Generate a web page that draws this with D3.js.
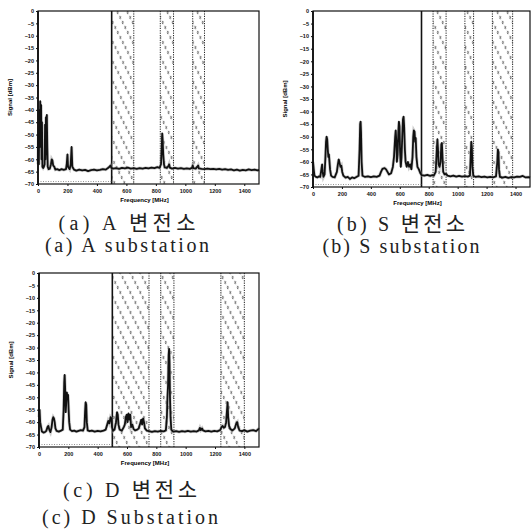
<!DOCTYPE html>
<html>
<head>
<meta charset="utf-8">
<script src="https://cdn.jsdelivr.net/npm/d3@7"></script>
<style>
body { margin: 0; background: #fff; }
</style>
</head>
<body>
<svg id="fig" width="532" height="529"></svg>
<script>
let xTicks = [0, 200, 400, 600, 800, 1000, 1200, 1400]
let yTicks = [0, -5, -10, -15, -20, -25, -30, -35, -40, -45, -50, -55, -60, -65, -70]

// spectrum traces, [MHz, dBm]
let traceA = [[0,-62],[3,-50],[6,-62],[9,-40],[12,-55],[15,-36.5],[18,-52],[21,-38],[24,-60],[27,-45],[30,-63],[35,-63.5],[40,-63],[45,-62],[48,-46],[51,-60],[54,-43],[57,-58],[60,-42],[63,-55],[66,-63],[72,-64],[80,-63.8],[88,-62],[93,-60],[98,-60.5],[103,-62.5],[110,-63],[118,-64.2],[130,-64],[145,-64.4],[160,-64],[175,-64.3],[190,-64],[195,-62],[200,-58],[204,-63],[215,-64],[222,-62],[228,-55],[233,-63],[245,-64.2],[260,-64.6],[280,-64.2],[300,-64.5],[320,-64.3],[340,-64.8],[360,-64.4],[380,-64.2],[400,-64.5],[420,-64.3],[440,-64],[460,-64.2],[475,-63.5],[485,-63],[492,-62.5],[498,-63.5],[510,-63.8],[530,-63.6],[550,-63.9],[570,-63.5],[590,-63.7],[610,-63.4],[630,-63.8],[650,-63.6],[670,-63.9],[690,-63.6],[710,-63.8],[730,-63.5],[750,-63.7],[770,-63.4],[790,-63.6],[810,-63.2],[825,-63.5],[835,-62],[840,-55],[843,-49.5],[846,-52],[850,-58],[855,-62],[860,-63.3],[875,-63.5],[885,-62.8],[890,-62],[895,-63.4],[910,-63.8],[930,-63.5],[950,-63.8],[970,-63.6],[990,-63.9],[1010,-63.7],[1030,-63.9],[1045,-63.5],[1050,-62.5],[1055,-63.6],[1070,-63.8],[1082,-63],[1087,-62.5],[1092,-63.7],[1110,-63.9],[1130,-64],[1150,-63.8],[1170,-64],[1190,-63.9],[1210,-64.1],[1230,-63.9],[1250,-64.2],[1270,-64],[1290,-64.3],[1310,-64.1],[1330,-64.5],[1350,-64.2],[1370,-64.6],[1390,-64.3],[1410,-64.5],[1430,-64.1],[1450,-64.4],[1470,-64.2],[1490,-64.5],[1500,-64.3]]

let traceB = [[0,-60],[5,-63],[10,-65.5],[20,-66],[30,-66.2],[40,-65.8],[50,-66],[58,-63],[63,-61],[67,-64],[72,-66],[80,-65],[86,-58],[90,-52],[94,-50],[98,-51],[102,-55],[106,-58],[110,-57],[114,-60],[118,-63],[125,-65.5],[135,-66],[150,-66.2],[165,-64],[172,-61],[178,-59],[184,-60.5],[190,-62],[196,-61.5],[202,-64],[210,-65.5],[225,-66.3],[240,-66],[255,-66.8],[270,-66.2],[285,-66.5],[300,-66],[315,-65.5],[322,-55],[326,-45],[329,-44],[332,-48],[336,-60],[342,-65.5],[360,-66],[380,-65.8],[400,-66.1],[420,-65.8],[440,-66],[460,-65.5],[470,-64],[480,-62.8],[495,-62.5],[505,-63],[515,-64],[525,-65],[540,-64.5],[552,-62],[560,-58],[568,-50],[572,-47.5],[576,-52],[580,-60],[585,-57],[590,-48],[594,-44],[598,-46],[602,-56],[607,-62],[612,-58],[617,-50],[622,-43],[626,-42],[630,-46],[635,-55],[640,-60],[648,-62],[656,-60],[664,-62],[672,-61],[680,-63],[688,-58],[693,-50],[697,-47.5],[702,-48],[706,-52],[710,-50.5],[715,-58],[722,-62],[732,-63],[742,-64.5],[752,-65.3],[770,-65.5],[790,-65.2],[810,-65.6],[825,-65.3],[835,-65.5],[848,-64],[855,-56],[860,-51],[864,-55],[868,-61],[875,-62],[882,-60],[887,-53],[891,-52.5],[895,-58],[900,-64],[910,-65],[920,-64.8],[930,-65.5],[950,-65.8],[970,-65.5],[990,-65.9],[1010,-65.6],[1030,-65.9],[1050,-65.7],[1070,-65.9],[1085,-65.5],[1090,-58],[1094,-52],[1098,-54],[1102,-62],[1108,-65.5],[1125,-66],[1145,-65.8],[1165,-66.1],[1185,-65.9],[1205,-66.2],[1225,-66],[1245,-66.2],[1265,-65.8],[1274,-60],[1278,-55],[1282,-56.5],[1286,-63],[1292,-66],[1310,-66.3],[1330,-66],[1350,-66.4],[1370,-66.1],[1390,-66.2],[1410,-65.9],[1430,-66],[1450,-65.6],[1470,-66.2],[1490,-66.1],[1500,-66.3]]

let traceC = [[0,-58],[4,-55],[8,-60],[14,-62],[20,-63.8],[30,-64.2],[40,-64],[50,-63.5],[58,-62],[64,-61.5],[70,-63],[78,-64],[86,-62],[92,-59],[97,-58],[102,-58.5],[107,-60],[112,-62.5],[120,-63.5],[135,-63.8],[150,-63.4],[162,-63],[168,-55],[172,-44],[175,-41],[178,-46],[182,-56],[186,-52],[190,-48],[194,-50],[198,-49],[202,-55],[206,-60],[212,-63],[225,-63.6],[240,-63.4],[255,-63.8],[270,-63.5],[285,-63.2],[300,-63.4],[310,-62],[314,-56],[318,-52],[322,-53],[326,-60],[332,-63.3],[345,-63.6],[360,-63.4],[380,-63.8],[400,-63.5],[420,-63.7],[440,-63.4],[455,-63],[465,-61],[472,-59.5],[480,-60.5],[488,-58],[494,-58.5],[498,-62],[505,-63.5],[515,-63],[525,-60],[532,-56],[537,-57],[542,-61],[550,-63],[565,-63.4],[578,-62],[585,-61],[592,-58],[598,-57],[604,-60],[610,-56.5],[616,-59],[622,-57],[628,-62],[636,-61],[645,-62.8],[655,-63.3],[670,-63],[680,-62.5],[690,-60.5],[697,-59],[703,-61],[710,-58.5],[716,-60],[722,-62.5],[735,-63.4],[750,-63.6],[770,-63.9],[790,-63.6],[810,-63.8],[830,-63.5],[850,-63.7],[865,-63.3],[872,-58],[876,-50],[880,-45],[884,-33],[887,-30.5],[890,-36],[893,-50],[897,-58],[902,-63],[915,-63.8],[935,-63.6],[955,-63.9],[975,-63.6],[995,-63.8],[1015,-63.5],[1035,-63.8],[1055,-63.6],[1075,-63.8],[1090,-63.3],[1097,-62.3],[1103,-63.2],[1112,-62.5],[1118,-63.3],[1135,-63.7],[1155,-63.5],[1175,-63.8],[1195,-63.5],[1215,-63.7],[1235,-63.2],[1245,-62],[1252,-61.5],[1260,-62.3],[1268,-62],[1276,-60],[1282,-55],[1286,-52],[1290,-58],[1296,-61.5],[1305,-62.8],[1320,-63.3],[1335,-62.5],[1345,-60.5],[1352,-60],[1358,-62],[1368,-63.4],[1385,-63.6],[1400,-63.2],[1420,-63.8],[1440,-63.4],[1460,-63.2],[1480,-63.6],[1495,-62.8],[1500,-63]]

// hatched bands [from, to] in MHz and the solid marker line
let bandsA = [[500, 650], [830, 920], [1050, 1130]]
let bandsB = [[830, 920], [1050, 1110], [1240, 1380]]
let bandsC = [[500, 750], [830, 920], [1240, 1400]]
let edgeA = 500, edgeB = 750, edgeC = 500

// captions: latin part + korean part, then the english line
let captionsA = [["(a) A ", "변전소"], ["(a) A substation", ""]]
let captionsB = [["(b) S ", "변전소"], ["(b) S substation", ""]]
let captionsC = [["(c) D ", "변전소"], ["(c) D Substation", ""]]

let svg = d3.select('#fig')

let defs = svg.append('defs')
let pat = defs.append('pattern')
    .attr('id', 'hatch')
    .attr('patternUnits', 'userSpaceOnUse')
    .attr('width', 10)
    .attr('height', 5)
    .attr('patternTransform', 'skewX(27)')
pat.append('path')
    .attr('d', 'M0.3,4.2 L2.2,0.8')
    .attr('stroke', '#333')
    .attr('stroke-width', 1.05)

let panels = [
    {trace: traceA, bands: bandsA, edge: edgeA, caps: captionsA, left: 38, right: 259, top: 11, bottom: 184,
     capX: 127, capY: [223, 245], capW: [137, 164]},
    {trace: traceB, bands: bandsB, edge: edgeB, caps: captionsB, left: 313, right: 530, top: 11, bottom: 187,
     capX: 401, capY: [224, 246], capW: [128, 157]},
    {trace: traceC, bands: bandsC, edge: edgeC, caps: captionsC, left: 39, right: 259, top: 273, bottom: 447,
     capX: 130, capY: [490, 517], capW: [134, 176]}
]

panels.forEach(function(p, i){
    drawPanel(p, i)
})

function drawPanel(p, i){
    let x = d3.scaleLinear().domain([0, 1500]).range([p.left, p.right])
    let y = d3.scaleLinear().domain([-70, 0]).range([p.bottom, p.top])

    let g = svg.append('g')

    // hatched bands
    p.bands.forEach(function(b){
        g.append('rect')
            .attr('x', x(b[0]))
            .attr('y', y(0))
            .attr('width', x(b[1]) - x(b[0]))
            .attr('height', y(-70) - y(0))
            .attr('fill', 'url(#hatch)')
            .attr('opacity', 0.85)
        b.forEach(function(f){
            if (f == p.edge) return
            g.append('line')
                .attr('x1', x(f)).attr('x2', x(f))
                .attr('y1', y(0)).attr('y2', y(-70))
                .attr('stroke', '#222')
                .attr('stroke-width', 1)
                .attr('stroke-dasharray', '1.2,1.2')
        })
    })

    g.append('line')
        .attr('x1', x(p.edge)).attr('x2', x(p.edge))
        .attr('y1', y(0)).attr('y2', y(-70))
        .attr('stroke', '#111')
        .attr('stroke-width', 1.6)

    // faint dotted line near the floor
    g.append('line')
        .attr('x1', x(0)).attr('x2', x(p.edge))
        .attr('y1', y(-69)).attr('y2', y(-69))
        .attr('stroke', '#666')
        .attr('stroke-width', 0.7)
        .attr('stroke-dasharray', '1,1.5')

    // trace
    let line = d3.line()
        .x(function(d){ return x(d[0]) })
        .y(function(d){ return y(d[1]) })
    g.append('path')
        .datum(p.trace)
        .attr('d', line)
        .attr('fill', 'none')
        .attr('stroke', '#999')
        .attr('stroke-width', 3.2)
        .attr('opacity', 0.5)
    g.append('path')
        .datum(p.trace)
        .attr('d', line)
        .attr('fill', 'none')
        .attr('stroke', '#111')
        .attr('stroke-width', 1.8)
        .attr('stroke-linejoin', 'round')

    // frame
    g.append('rect')
        .attr('x', p.left).attr('y', p.top)
        .attr('width', p.right - p.left)
        .attr('height', p.bottom - p.top)
        .attr('fill', 'none')
        .attr('stroke', '#111')
        .attr('stroke-width', 1.2)
    g.append('line')
        .attr('x1', p.left).attr('x2', p.left)
        .attr('y1', p.top).attr('y2', p.bottom)
        .attr('stroke', '#111')
        .attr('stroke-width', 1.8)

    let xAxis = d3.axisBottom(x).tickValues(xTicks).tickFormat(d3.format('d')).tickSize(2).tickPadding(3)
    let yAxis = d3.axisLeft(y).tickValues(yTicks).tickFormat(d3.format('d')).tickSize(2).tickPadding(2)

    let gx = g.append('g')
        .attr('transform', 'translate(0,' + p.bottom + ')')
        .call(xAxis)
    let gy = g.append('g')
        .attr('transform', 'translate(' + p.left + ',0)')
        .call(yAxis)
    ;[gx, gy].forEach(function(a){
        a.select('.domain').remove()
        a.selectAll('line').attr('stroke', '#111').attr('stroke-width', 1)
        a.selectAll('text')
            .style('font-family', 'Liberation Sans, Arial, sans-serif')
            .style('font-size', '5.5px')
            .style('font-weight', 'bold')
            .attr('fill', '#111')
    })

    g.append('text')
        .attr('transform', 'translate(' + (p.left - 28) + ',' + ((p.top + p.bottom) / 2) + ') rotate(-90)')
        .attr('text-anchor', 'middle')
        .attr('dy', '0.35em')
        .style('font-family', 'Liberation Sans, Arial, sans-serif')
        .style('font-size', '6px')
        .style('font-weight', 'bold')
        .text('Signal [dBm]')

    g.append('text')
        .attr('x', (p.left + p.right) / 2 - 4)
        .attr('y', p.bottom + 18)
        .attr('text-anchor', 'middle')
        .style('font-family', 'Liberation Sans, Arial, sans-serif')
        .style('font-size', '6px')
        .style('font-weight', 'bold')
        .text('Frequency [MHz]')

    p.caps.forEach(function(c, k){
        let t = g.append('text')
            .attr('x', p.capX)
            .attr('y', p.capY[k])
            .attr('text-anchor', 'middle')
            .attr('dy', '0.35em')
            .attr('textLength', p.capW[k])
            .attr('lengthAdjust', 'spacing')
            .style('font-family', 'Liberation Serif, serif')
            .style('font-size', '20px')
            .attr('fill', '#222')
        t.append('tspan').text(c[0])
        if (c[1]) {
            t.append('tspan')
                .style('font-family', 'Noto Sans CJK KR, sans-serif')
                .style('font-size', '21px')
                .text(c[1])
        }
    })
}
</script>
</body>
</html>
